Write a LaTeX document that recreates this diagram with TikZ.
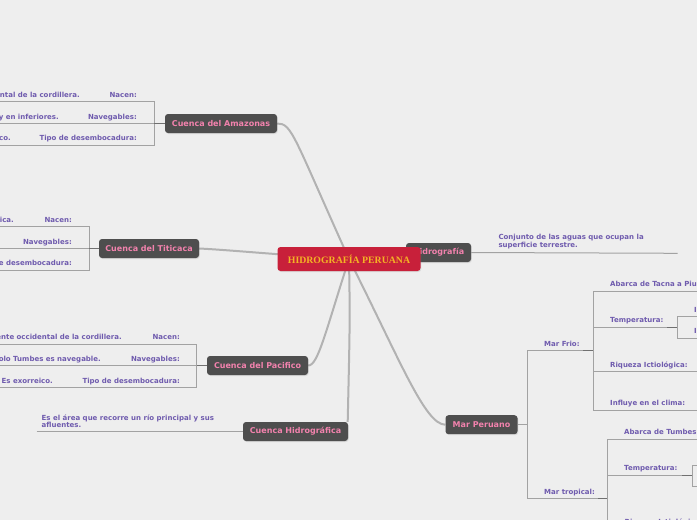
\documentclass[tikz,border=0pt]{standalone}
\usepackage{fontspec}
\usetikzlibrary{calc,shadows}
\newfontfamily\dv{DejaVu Sans}
\newfontfamily\ls{Liberation Serif}
\definecolor{bgc}{HTML}{EEEEEE}
\definecolor{lab}{HTML}{6F5BAE}
\definecolor{nodefill}{HTML}{4E4E4E}
\definecolor{pinktxt}{HTML}{F282AD}
\definecolor{redfill}{HTML}{C8203A}
\definecolor{goldtxt}{HTML}{F4B324}
\definecolor{thinc}{HTML}{A2A2A2}
\definecolor{darkc}{HTML}{707070}
\definecolor{thickc}{HTML}{B2B2B2}
\pgfdeclarelayer{bglayer}
\pgfsetlayers{bglayer,main}
\tikzset{
 topic/.style={fill=nodefill, text=pinktxt, rounded corners=3pt,
   font=\dv\bfseries\fontsize{8}{9}\selectfont, minimum height=19pt,
   inner xsep=2pt, inner ysep=0pt,
   drop shadow={opacity=0.18, shadow xshift=0.8pt, shadow yshift=-1pt}},
 centre/.style={fill=redfill, text=goldtxt, rounded corners=3pt,
   font=\ls\bfseries\fontsize{9.8}{11}\selectfont, minimum height=24pt,
   minimum width=143pt, inner sep=0pt,
   drop shadow={opacity=0.18, shadow xshift=0.8pt, shadow yshift=-1pt}},
 lbl/.style={text=lab, font=\dv\bfseries\fontsize{7}{7.5}\selectfont, inner sep=0pt},
 lble/.style={lbl, anchor=mid east},
 lblw/.style={lbl, anchor=mid west},
 br/.style={draw=thinc, line width=1pt},
 junc/.style={draw=darkc, line width=1.4pt},
 conn/.style={draw=thickc, line width=2pt},
}
\begin{document}
\begin{tikzpicture}[x=1pt,y=-1pt]
\clip (0,0) rectangle (697,520);
\useasboundingbox (0,0) rectangle (697,520);
\begin{pgfonlayer}{bglayer}
\fill[bgc] (0,0) rectangle (697,520);
\end{pgfonlayer}

% topic nodes
\node[topic, minimum width=112pt] (amaz) at (221,123.5) {Cuenca del Amazonas};
\node[topic, minimum width=100pt] (titi) at (149,248.5) {Cuenca del Titicaca};
\node[topic, minimum width=101pt] (paci) at (257.5,365.5) {Cuenca del Pacifico};
\node[topic, minimum width=105pt] (chid) at (295.5,431.5) {Cuenca Hidrográfica};
\node[topic, minimum width=72pt] (mper) at (481.5,424.7) {Mar Peruano};
\node[topic, minimum width=65pt] (hidr) at (438.5,252.5) {Hidrografía};
\coordinate (hub) at (349,259);
\node[centre] (center) at (hub) {HIDROGRAFÍA PERUANA};

% main connectors
\begin{pgfonlayer}{bglayer}
\draw[conn] (amaz.east) .. controls (292,123.5) and (293,135) .. (hub);
\draw[conn] (titi.east) .. controls (230,250) and (280,255) .. (hub);
\draw[conn] (paci.east) .. controls (318,366) and (326,330) .. (hub);
\coordinate (chtop) at ($(chid.north east)+(-0.5,0)$);
\draw[conn] (hub) .. controls (350,320) .. (chtop);
\draw[conn] (hub) .. controls (400,360) and (425,424.7) .. (mper.west);
\draw[conn] (hub) -- (hidr.west);
\end{pgfonlayer}

% ---- Amazonas branch
\coordinate (amj) at (154.3,123.5);
\draw[br] (0,101.7) -| (154.3,145) -- (0,145);
\draw[br] (0,123.5) -- (amj);
\draw[junc] (amj) -- (amaz.west);
\node[lble] (am1d) at (80,95.7) {ental de la cordillera.};
\node[lble] (am1) at (137,95.7) {Nacen:};
\node[lble] (am2d) at (59,117.7) {y en inferiores.};
\node[lble] (am2) at (137,117.7) {Navegables:};
\node[lble] (am3d) at (11,138.3) {co.};
\node[lble] (am3) at (137,138.3) {Tipo de desembocadura:};

% ---- Titicaca branch
\coordinate (tij) at (89,248.5);
\draw[br] (0,226.7) -| (89,270) -- (0,270);
\draw[br] (0,248.5) -- (tij);
\draw[junc] (tij) -- (titi.west);
\node[lble] (ti1d) at (14,220.7) {ica.};
\node[lble] (ti1) at (72,220.7) {Nacen:};
\node[lble] (ti2) at (72,242.7) {Navegables:};
\node[lble] (ti3) at (72,263.3) {Tipo de desembocadura:};

% ---- Pacifico branch
\coordinate (paj) at (196.7,365.5);
\draw[br] (0,344.3) -| (196.7,387.3) -- (0,387.3);
\draw[br] (0,365.5) -- (paj);
\draw[junc] (paj) -- (paci.west);
\node[lble] (pa1d) at (122,337.3) {ente occidental de la cordillera.};
\node[lble] (pa1) at (180,337.3) {Nacen:};
\node[lble] (pa2d) at (101,359.3) {olo Tumbes es navegable.};
\node[lble] (pa2) at (180,359.3) {Navegables:};
\node[lble] (pa3d) at (53,381) {Es exorreico.};
\node[lble] (pa3) at (180,381) {Tipo de desembocadura:};

% ---- Cuenca Hidrografica
\draw[br] (36.7,431.5) -- (chid.west);
\node[lbl, anchor=north west, align=left] (chd) at (41.5,414.3)
  {Es el área que recorre un río principal y sus\\afluentes.};

% ---- Hidrografia
\draw[br] (hidr.east) -- (677.7,253.3);
\node[lbl, anchor=north west, align=left] (hid) at (498.3,234.3)
  {Conjunto de las aguas que ocupan la\\superficie terrestre.};

% ---- Mar Peruano
\coordinate (mpj) at (527.7,424.7);
\draw[br] (mper.east) -- (mpj);
\draw[br] (608,498.3) -| (527.7,350.7) -- (593.3,350.7);
\draw[junc] (583,350.7) -- (593.3,350.7);
\draw[junc] (598,498.3) -- (607.7,498.3);
\node[lblw] (mf) at (544,344) {Mar Frio:};
\node[lblw] (mt) at (544,492.3) {Mar tropical:};
% Mar Frio children
\draw[br] (697,291.7) -| (593.3,410.7) -- (697,410.7);
\draw[br] (593.3,327.3) -- (677.3,327.3);
\draw[junc] (667,327.3) -- (677.3,327.3);
\draw[br] (593.3,371.7) -- (697,371.7);
\draw[br] (697,316.7) -| (677.3,338.3) -- (697,338.3);
\node[lblw] (mf1) at (610,284.3) {Abarca de Tacna a Piura.};
\node[lblw] (mf2) at (610,320.7) {Temperatura:};
\node[lblw] (mf2a) at (694,310.7) {I};
\node[lblw] (mf2b) at (694,331.7) {I};
\node[lblw] (mf3) at (610,365) {Riqueza Ictiológica:};
\node[lblw] (mf4) at (610,403.3) {Influye en el clima:};
% Mar tropical children
\draw[br] (697,439.3) -| (607.7,525);
\draw[br] (607.7,475.7) -- (692.3,475.7);
\draw[junc] (682,475.7) -- (692.3,475.7);
\draw[br] (697,465) -| (692.3,486.7) -- (697,486.7);
\node[lblw] (mt1) at (624,432.3) {Abarca de Tumbes a Piura.};
\node[lblw] (mt2) at (624,468.3) {Temperatura:};
\node[lblw] (mt3) at (624.5,522) {Riqueza Ictiológica:};
\end{tikzpicture}
\end{document}
